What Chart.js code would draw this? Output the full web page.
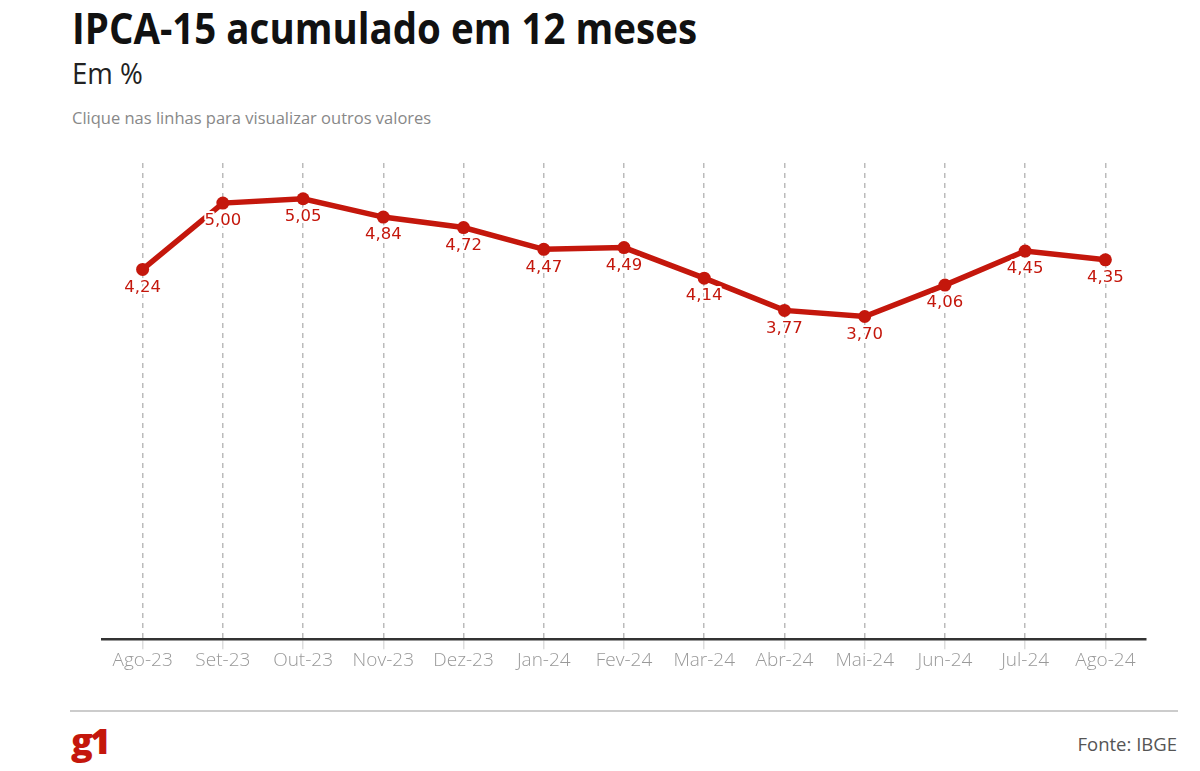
<!DOCTYPE html>
<html>
<head>
<meta charset="utf-8">
<script src="https://cdn.jsdelivr.net/npm/chart.js@4"></script>
<style>
  body { margin: 0; background: #fff; font-family: "Open Sans", sans-serif; }
  .wrap { position: relative; width: 1200px; height: 771px; overflow: hidden; }
  h1 { position: absolute; left: 72px; top: 6px; margin: 0; font-size: 43px; line-height: 1; font-weight: 700; color: #111; transform: scaleX(0.895); transform-origin: left top; white-space: nowrap; }
  .sub { position: absolute; left: 72px; top: 52px; font-size: 30px; color: #222; transform: scaleX(0.92); transform-origin: left top; }
  .note { position: absolute; left: 72px; top: 106px; font-size: 16.5px; color: #888; }
  .box { position: absolute; left: 96px; top: 150px; width: 1056px; height: 522px; }
  .rule { position: absolute; left: 70px; top: 710px; width: 1108px; height: 2px; background: #ccc; }
  .logo { position: absolute; left: 71px; top: 716px; font-size: 36px; font-weight: 800; color: #c4170c; letter-spacing: -3px; }
  .src { position: absolute; right: 23px; top: 731px; font-size: 18.5px; color: #555; }
</style>
</head>
<body>
<div class="wrap">
  <h1>IPCA-15 acumulado em 12 meses</h1>
  <div class="sub">Em %</div>
  <div class="note">Clique nas linhas para visualizar outros valores</div>
  <div class="box"><canvas id="chart"></canvas></div>
  <div class="rule"></div>
  <div class="logo">g1</div>
  <div class="src">Fonte: IBGE</div>
</div>
<script>
const months = ["Ago-23", "Set-23", "Out-23", "Nov-23", "Dez-23", "Jan-24", "Fev-24",
  "Mar-24", "Abr-24", "Mai-24", "Jun-24", "Jul-24", "Ago-24"];
const ipca15 = [4.24, 5.00, 5.05, 4.84, 4.72, 4.47, 4.49, 4.14, 3.77, 3.70, 4.06, 4.45, 4.35];

const red = "#c4170c";

// value labels under each point, with a white halo
const valueLabels = {
  id: "valueLabels",
  afterDatasetsDraw(chart) {
    const ctx = chart.ctx;
    const meta = chart.getDatasetMeta(0);
    ctx.save();
    ctx.font = "16.5px 'DejaVu Sans'";
    ctx.textAlign = "center";
    ctx.textBaseline = "middle";
    ctx.lineJoin = "round";
    meta.data.forEach((pt, i) => {
      const txt = ipca15[i].toFixed(2).replace(".", ",");
      ctx.strokeStyle = "#fff";
      ctx.lineWidth = 4;
      ctx.strokeText(txt, pt.x, pt.y + 18);
      ctx.fillStyle = red;
      ctx.fillText(txt, pt.x, pt.y + 18);
    });
    ctx.restore();
  },
};

new Chart(document.querySelector("#chart").getContext("2d"), {
  type: "line",
  data: {
    labels: months,
    datasets: [
      {
        data: ipca15,
        borderColor: red,
        backgroundColor: red,
        borderWidth: 5.5,
        pointRadius: 6.5,
        pointBackgroundColor: red,
        pointBorderWidth: 0,
        tension: 0,
      },
    ],
  },
  options: {
    responsive: true,
    maintainAspectRatio: false,
    animation: false,
    layout: { padding: { top: 13, left: 0, right: 0, bottom: 0 } },
    plugins: { legend: { display: false }, tooltip: { enabled: false } },
    scales: {
      x: {
        offset: true,
        grid: {
          offset: false,
          color: "#bbb",
          tickColor: "#ddd",
          tickLength: 10,
          lineWidth: 1.5,
        },
        border: { display: true, color: "#333", width: 2.5, dash: [5, 5] },
        ticks: { color: "#999", font: { family: "Open Sans", size: 19, weight: 300 }, padding: 0 },
      },
      y: {
        display: false,
        min: 0,
        max: 5.46,
      },
    },
  },
  plugins: [valueLabels],
});
</script>
</body>
</html>
